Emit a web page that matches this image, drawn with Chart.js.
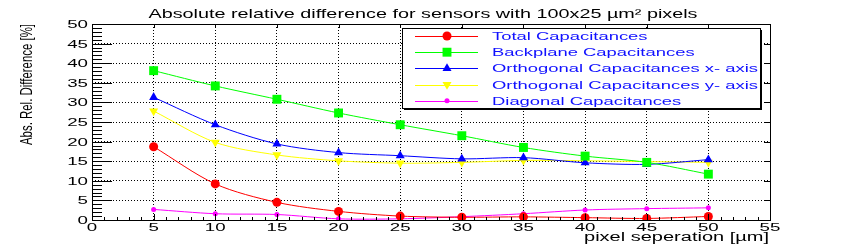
<!DOCTYPE html>
<html>
<head>
<meta charset="utf-8">
<script src="https://cdn.jsdelivr.net/npm/chart.js@4.4.1/dist/chart.umd.min.js"></script>
<style>
  body { margin: 0; background: #fff; }
</style>
</head>
<body>
<canvas id="chart" width="847" height="245"></canvas>
<script>
// DATA
const separation = [5, 10, 15, 20, 25, 30, 35, 40, 45, 50];
const totalCap = [18.7, 9.2, 4.5, 2.2, 1.0, 0.7, 0.8, 0.6, 0.4, 0.9];
const backplaneCap = [38.1, 34.2, 30.8, 27.3, 24.3, 21.5, 18.5, 16.3, 14.7, 11.7];
const orthoXCap = [31.3, 24.3, 19.4, 17.2, 16.4, 15.6, 15.9, 14.6, 14.2, 15.4];
const orthoYCap = [27.8, 19.8, 16.6, 15.1, 14.5, 14.7, 15.2, 15.1, 14.9, 14.7];
const diagonalCap = [2.7, 1.6, 1.4, 0.3, 0.3, 0.85, 1.6, 2.55, 2.9, 3.1];

const seriesNames = [
    'Total Capacitances',
    'Backplane Capacitances',
    'Orthogonal Capacitances x- axis',
    'Orthogonal Capacitances y- axis',
    'Diagonal Capacitances'
];
const titleText = 'Absolute relative difference for sensors with 100x25 \u00b5m\u00b2 pixels';
const xTitle = 'pixel seperation [\u00b5m]';
const yTitle = 'Abs. Rel. Difference [%]';

function pts(ys) {
    return separation.map((x, i) => ({x: x, y: ys[i]}));
}

function makeSet(label, ys, col, style, r, rot) {
    return {
        label: label,
        data: pts(ys),
        borderColor: col,
        backgroundColor: col,
        borderWidth: 1,
        pointStyle: style,
        pointRadius: r,
        pointRotation: rot || 0,
        pointBorderWidth: 0,
        pointBackgroundColor: col,
        tension: 0.3
    };
}

const FONT = '"Liberation Sans", Arial, sans-serif';

// draws text squeezed/stretched sideways like the ROOT output
function sText(ctx, text, x, y, sx, align) {
    ctx.save();
    ctx.translate(x, y);
    ctx.scale(sx, 1);
    ctx.textAlign = align;
    ctx.fillText(text, 0, 0);
    ctx.restore();
}

const rootDecor = {
    id: 'rootDecor',
    beforeDraw(chart) {
        const ctx = chart.ctx;
        ctx.save();
        ctx.fillStyle = '#fff';
        ctx.fillRect(0, 0, chart.width, chart.height);
        ctx.restore();
    },
    afterDraw(chart) {
        const ctx = chart.ctx;
        const a = chart.chartArea;
        const xs = chart.scales.x, ys = chart.scales.y;
        ctx.save();

        // frame
        ctx.strokeStyle = '#000';
        ctx.lineWidth = 1;
        ctx.strokeRect(Math.round(a.left) + 0.5, Math.round(a.top) + 0.5,
            Math.round(a.right - a.left), Math.round(a.bottom - a.top));

        // y ticks (major 20px, minor 10px, inside)
        ctx.beginPath();
        for (let v = 0; v <= 50; v++) {
            const py = Math.round(ys.getPixelForValue(v)) + 0.5;
            const len = v % 5 === 0 ? 20 : 10;
            ctx.moveTo(a.left, py);
            ctx.lineTo(a.left + len, py);
            if (v % 5 === 0) {
                ctx.moveTo(a.right, py);
                ctx.lineTo(a.right - 6, py);
            }
        }
        // x ticks
        for (let v = 0; v <= 55; v++) {
            const px = Math.round(xs.getPixelForValue(v)) + 0.5;
            const len = v % 5 === 0 ? 6 : 3;
            ctx.moveTo(px, a.bottom);
            ctx.lineTo(px, a.bottom - len);
            if (v % 5 === 0) {
                ctx.moveTo(px, a.top);
                ctx.lineTo(px, a.top + 4);
            }
        }
        ctx.stroke();

        // tick labels
        ctx.fillStyle = '#000';
        ctx.font = '11px ' + FONT;
        ctx.textBaseline = 'middle';
        ys.ticks.forEach(t => {
            sText(ctx, String(t.value), a.left - 4, ys.getPixelForValue(t.value) + 1, 1.7, 'right');
        });
        xs.ticks.forEach(t => {
            sText(ctx, String(t.value), xs.getPixelForValue(t.value), a.bottom + 8, 1.7, 'center');
        });

        // title
        ctx.font = '13px ' + FONT;
        ctx.textBaseline = 'alphabetic';
        let sx = 549 / ctx.measureText(titleText).width;
        sText(ctx, titleText, 423, 18, sx, 'center');

        // x title
        ctx.font = '12px ' + FONT;
        sx = 185 / ctx.measureText(xTitle).width;
        sText(ctx, xTitle, 769, 241, sx, 'right');

        // y title (rotated, narrow)
        ctx.font = '16px ' + FONT;
        const yw = ctx.measureText(yTitle).width;
        ctx.save();
        ctx.translate(32, 24);
        ctx.rotate(-Math.PI / 2);
        ctx.scale(121 / yw, 1);
        ctx.textAlign = 'right';
        ctx.fillText(yTitle, 0, 0);
        ctx.restore();

        // legend box with shadow
        const lx = 402, ly = 28, lw = 358, lh = 80;
        ctx.fillStyle = '#000';
        ctx.fillRect(lx + 2, ly + 2, lw, lh);
        ctx.fillStyle = '#fff';
        ctx.fillRect(lx, ly, lw, lh);
        ctx.strokeStyle = '#000';
        ctx.strokeRect(lx + 0.5, ly + 0.5, lw, lh);

        ctx.font = '11px ' + FONT;
        ctx.textBaseline = 'middle';
        const lsx = 266 / ctx.measureText(seriesNames[2]).width;
        chart.data.datasets.forEach((ds, i) => {
            const cy = 36 + i * 16.2;
            ctx.strokeStyle = ds.borderColor;
            ctx.lineWidth = 1;
            ctx.beginPath();
            ctx.moveTo(415, Math.round(cy) + 0.5);
            ctx.lineTo(478, Math.round(cy) + 0.5);
            ctx.stroke();
            ctx.fillStyle = ds.backgroundColor;
            Chart.helpers.drawPoint(ctx, {
                pointStyle: ds.pointStyle,
                radius: ds.pointRadius,
                rotation: ds.pointRotation,
                borderWidth: 0
            }, 447, cy);
            ctx.fillStyle = '#1010ff';
            sText(ctx, ds.label, 492, cy + 1, lsx, 'left');
        });

        ctx.restore();
    }
};

const ctx = document.getElementById('chart').getContext('2d');
const myChart = new Chart(ctx, {
    type: 'line',
    data: {
        datasets: [
            makeSet(seriesNames[0], totalCap, '#ff0000', 'circle', 4.5),
            makeSet(seriesNames[1], backplaneCap, '#00ff00', 'rect', 6.3),
            makeSet(seriesNames[2], orthoXCap, '#0000ff', 'triangle', 5.2),
            makeSet(seriesNames[3], orthoYCap, '#ffff00', 'triangle', 5.2, 180),
            makeSet(seriesNames[4], diagonalCap, '#ff00ff', 'circle', 2.5)
        ]
    },
    options: {
        responsive: false,
        devicePixelRatio: 1,
        animation: false,
        layout: {padding: {left: 0, right: 77, top: 24, bottom: 0}},
        scales: {
            x: {
                type: 'linear',
                min: 0,
                max: 55,
                ticks: {stepSize: 5, display: false},
                grid: {color: '#000', lineWidth: 1, drawTicks: false},
                border: {display: false, dash: [1, 2]},
                afterFit: s => { s.height = 25; }
            },
            y: {
                min: 0,
                max: 50,
                ticks: {stepSize: 5, display: false},
                grid: {color: '#000', lineWidth: 1, drawTicks: false},
                border: {display: false, dash: [1, 2]},
                afterFit: s => { s.width = 92; }
            }
        },
        plugins: {
            legend: {display: false},
            title: {display: false},
            tooltip: {enabled: false}
        }
    },
    plugins: [rootDecor]
});
</script>
</body>
</html>
